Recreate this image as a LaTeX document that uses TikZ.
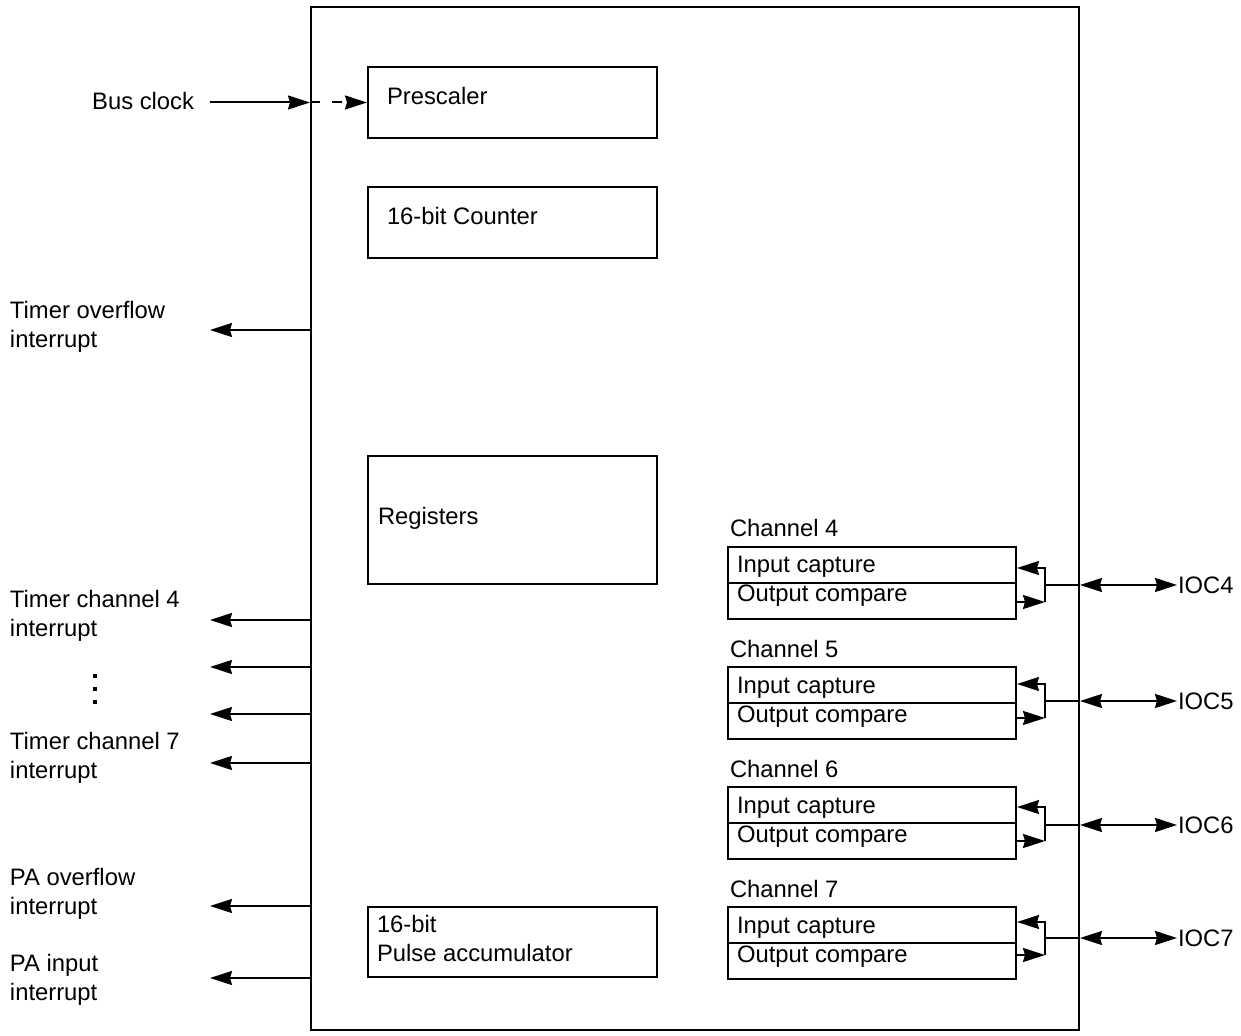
\documentclass[tikz,border=0pt]{standalone}
\usepackage{fontspec}
\setmainfont{Liberation Sans}
\usetikzlibrary{arrows.meta, calc}

\begin{document}
\begin{tikzpicture}[x=0.5pt, y=-0.5pt, line width=1pt,
    >={Stealth[length=11pt, width=7pt, inset=1pt]},
    font=\fontsize{11.9pt}{14.5pt}\selectfont,
    blk/.style={draw, minimum width=144.5pt, inner sep=0pt},
    chbox/.style={draw, minimum width=144pt, minimum height=36pt, inner sep=0pt},
    txt/.style={anchor=base west, inner sep=0pt, align=left}]
    \useasboundingbox (0,0) rectangle (1241,1036);

    % Timer module
    \node[draw, minimum width=384pt, minimum height=511.5pt, inner sep=0pt] (tim) at (695,518.5) {};

    % Inner blocks
    \node[blk, minimum height=35.5pt] (presc) at (512.5,102.5) {};
    \node[txt] (presctxt) at (386,105) {Prescaler};
    \node[blk, minimum height=35.5pt] (cnt) at (512.5,222.5) {};
    \node[txt] (cnttxt) at (386,225) {16-bit Counter};
    \node[blk, minimum height=64pt] (regs) at (512.5,520) {};
    \node[txt] (regstxt) at (377,525) {Registers};
    \node[blk, minimum height=35pt] (pacc) at (512.5,942) {};
    \node[txt] (pacctxt) at (376,961) {16-bit\\Pulse accumulator};

    % Bus clock
    \node[txt, anchor=base east] (bus) at (195,109.5) {Bus clock};
    \coordinate (busin) at (210,102.5);
    \draw[->] (busin) -- (tim.west |- busin);
    \draw[->, dash pattern=on 5pt off 6pt] (tim.west |- busin) -- (presc.west);

    % Interrupts
    \node[txt] (tovf) at (9,347.5) {Timer overflow\\interrupt};
    \coordinate (tovfout) at (210,330);
    \draw[->] (tim.west |- tovfout) -- (tovfout);

    \node[txt] (tch4) at (9,636.5) {Timer channel 4\\interrupt};
    \coordinate (tch4out) at (210,620);
    \draw[->] (tim.west |- tch4out) -- (tch4out);

    % dots
    \fill (93,674) rectangle ++(4,4);
    \fill (93,687) rectangle ++(4,4);
    \fill (93,700) rectangle ++(4,4);
    \coordinate (tch5out) at (210,667);
    \draw[->] (tim.west |- tch5out) -- (tch5out);
    \coordinate (tch6out) at (210,714);
    \draw[->] (tim.west |- tch6out) -- (tch6out);

    \node[txt] (tch7) at (9,778.5) {Timer channel 7\\interrupt};
    \coordinate (tch7out) at (210,763);
    \draw[->] (tim.west |- tch7out) -- (tch7out);

    \node[txt] (paovf) at (9,914) {PA overflow\\interrupt};
    \coordinate (paovfout) at (210,906);
    \draw[->] (tim.west |- paovfout) -- (paovfout);

    \node[txt] (pain) at (9,1000.5) {PA input\\interrupt};
    \coordinate (painout) at (210,978);
    \draw[->] (tim.west |- painout) -- (painout);

    % Channel 4
    \node[txt] (ch4lbl) at (729,537) {Channel 4};
    \node[chbox] (ch4) at (872,583) {};
    \draw (ch4.west) -- (ch4.east);
    \node[txt] (ic4) at (736,573) {Input capture};
    \node[txt] (oc4) at (736,602) {Output compare};
    \node[txt, anchor=west] (ioc4) at (1177,585) {IOC4};
    \coordinate (j4) at (1045,585);
    \coordinate (ic4in) at ($(ch4.east)+(0,-15)$);
    \coordinate (oc4out) at ($(ch4.east)+(0,19)$);
    \draw[->] (j4) |- (ic4in);
    \draw (j4) -- (j4 |- oc4out);
    \draw[<-] (j4 |- oc4out) -- (oc4out);
    \draw (j4) -- (tim.east |- j4);
    \draw[<->] (tim.east |- j4) -- (ioc4);

    % Channel 5
    \node[txt] (ch5lbl) at (729,657) {Channel 5};
    \node[chbox] (ch5) at (872,703) {};
    \draw (ch5.west) -- (ch5.east);
    \node[txt] (ic5) at (736,693) {Input capture};
    \node[txt] (oc5) at (736,722) {Output compare};
    \node[txt, anchor=west] (ioc5) at (1177,701) {IOC5};
    \coordinate (j5) at (1045,701);
    \coordinate (ic5in) at ($(ch5.east)+(0,-19)$);
    \coordinate (oc5out) at ($(ch5.east)+(0,15)$);
    \draw[->] (j5) |- (ic5in);
    \draw (j5) -- (j5 |- oc5out);
    \draw[<-] (j5 |- oc5out) -- (oc5out);
    \draw (j5) -- (tim.east |- j5);
    \draw[<->] (tim.east |- j5) -- (ioc5);

    % Channel 6
    \node[txt] (ch6lbl) at (729,777) {Channel 6};
    \node[chbox] (ch6) at (872,823) {};
    \draw (ch6.west) -- (ch6.east);
    \node[txt] (ic6) at (736,813) {Input capture};
    \node[txt] (oc6) at (736,842) {Output compare};
    \node[txt, anchor=west] (ioc6) at (1177,825) {IOC6};
    \coordinate (j6) at (1045,825);
    \coordinate (ic6in) at ($(ch6.east)+(0,-16)$);
    \coordinate (oc6out) at ($(ch6.east)+(0,18)$);
    \draw[->] (j6) |- (ic6in);
    \draw (j6) -- (j6 |- oc6out);
    \draw[<-] (j6 |- oc6out) -- (oc6out);
    \draw (j6) -- (tim.east |- j6);
    \draw[<->] (tim.east |- j6) -- (ioc6);

    % Channel 7
    \node[txt] (ch7lbl) at (729,897) {Channel 7};
    \node[chbox] (ch7) at (872,943) {};
    \draw (ch7.west) -- (ch7.east);
    \node[txt] (ic7) at (736,933) {Input capture};
    \node[txt] (oc7) at (736,962) {Output compare};
    \node[txt, anchor=west] (ioc7) at (1177,938) {IOC7};
    \coordinate (j7) at (1045,938);
    \coordinate (ic7in) at ($(ch7.east)+(0,-21)$);
    \coordinate (oc7out) at ($(ch7.east)+(0,12)$);
    \draw[->] (j7) |- (ic7in);
    \draw (j7) -- (j7 |- oc7out);
    \draw[<-] (j7 |- oc7out) -- (oc7out);
    \draw (j7) -- (tim.east |- j7);
    \draw[<->] (tim.east |- j7) -- (ioc7);
\end{tikzpicture}
\end{document}
